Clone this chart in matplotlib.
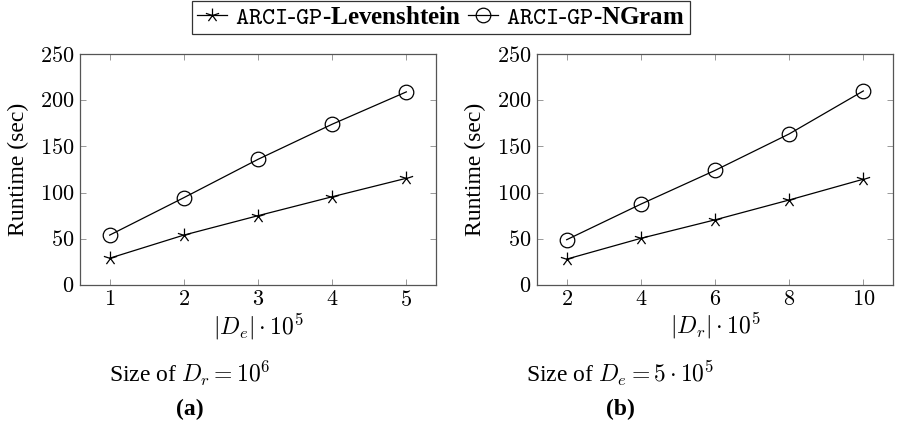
import numpy as np
import matplotlib
matplotlib.use("Agg")
import matplotlib.pyplot as plt
from matplotlib.path import Path

# data
de_sizes = [1, 2, 3, 4, 5]
lev_a = [29, 54, 75, 95.5, 115.5]
ngram_a = [54, 94.5, 136, 174, 209]

dr_sizes = [2, 4, 6, 8, 10]
lev_b = [28, 50.5, 70.5, 92, 114.5]
ngram_b = [49, 87.5, 124, 163.5, 210]

y_ticks = [0, 50, 100, 150, 200, 250]

plt.rcParams['font.family'] = ['Liberation Serif', 'DejaVu Serif']
plt.rcParams['mathtext.fontset'] = 'cm'


def star_marker():
    verts, codes = [], []
    for k in range(5):
        a = np.deg2rad(90 + 72 * k)
        verts += [(0, 0), (np.cos(a), np.sin(a))]
        codes += [Path.MOVETO, Path.LINETO]
    return Path(verts, codes)


STAR = star_marker()
frame_col = '#555555'


def style_axes(ax, xticks, xlim):
    ax.set_xlim(*xlim)
    ax.set_ylim(0, 250)
    ax.set_xticks(xticks)
    ax.set_yticks(y_ticks)
    ax.set_xticklabels([f'${t}$' for t in xticks])
    ax.set_yticklabels([f'${t}$' for t in y_ticks])
    ax.tick_params(direction='in', top=True, right=True, length=4,
                   width=0.6, color='#888888', labelsize=16, pad=4)
    for s in ax.spines.values():
        s.set_color(frame_col)
        s.set_linewidth(0.9)
    ax.set_ylabel('Runtime (sec)', fontsize=17, labelpad=8)


fig = plt.figure(figsize=(9.02, 4.30), dpi=100)
ax1 = fig.add_axes([80 / 902, 145 / 430, 356 / 902, 231 / 430])
ax2 = fig.add_axes([537 / 902, 145 / 430, 356 / 902, 231 / 430])

for ax, xs, lev, ng in [(ax1, de_sizes, lev_a, ngram_a), (ax2, dr_sizes, lev_b, ngram_b)]:
    l1, = ax.plot(xs, lev, color='black', lw=0.9, marker=STAR, markersize=10,
                  markeredgewidth=0.9, markerfacecolor='none')
    l2, = ax.plot(xs, ng, color='black', lw=0.9, marker='o', markersize=10.5,
                  markeredgewidth=0.9, markerfacecolor='none')

style_axes(ax1, de_sizes, (0.6, 5.4))
style_axes(ax2, dr_sizes, (1.2, 10.8))
ax1.set_xlabel(r'$|D_e|\cdot 10^5$', fontsize=17, labelpad=1)
ax2.set_xlabel(r'$|D_r|\cdot 10^5$', fontsize=17, labelpad=1)

fig.text(190 / 902, 1 - 373 / 430, r'Size of $D_r = 10^6$', fontsize=17,
         ha='center', va='center')
fig.text(620 / 902, 1 - 373 / 430, r'Size of $D_e = 5\cdot 10^5$', fontsize=17,
         ha='center', va='center')
fig.text(190 / 902, 1 - 409 / 430, '(a)', fontsize=17, fontweight='bold',
         ha='center', va='center')
fig.text(620 / 902, 1 - 409 / 430, '(b)', fontsize=17, fontweight='bold',
         ha='center', va='center')

leg = fig.legend([l1, l2],
                 [r'$\mathtt{ARCI}\text{-}\mathtt{GP}$-Levenshtein',
                  r'$\mathtt{ARCI}\text{-}\mathtt{GP}$-NGram'],
                 loc='center', bbox_to_anchor=(441 / 902, 1 - 17 / 430), ncol=2,
                 prop={'family': 'Liberation Serif', 'weight': 'bold', 'size': 18},
                 frameon=True, fancybox=False, edgecolor='black', handlelength=1.2,
                 handletextpad=0.3, columnspacing=0.3, borderpad=0.2,
                 borderaxespad=0)
leg.get_frame().set_linewidth(0.9)

fig.savefig('out.png', dpi=100)
